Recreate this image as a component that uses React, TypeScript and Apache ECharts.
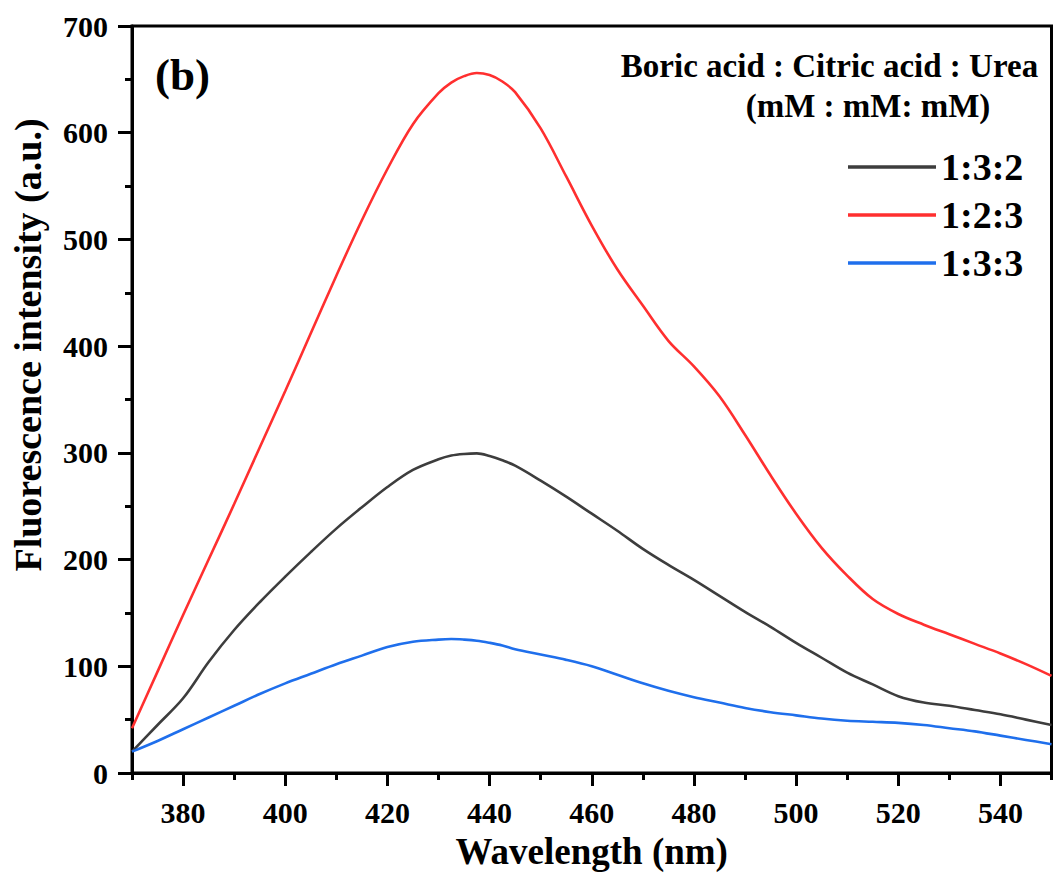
import React, { useEffect, useRef } from "react";
import * as echarts from "echarts";

const wavelengths = [370, 375, 380, 385, 390, 395, 400, 405, 410, 415, 420, 425, 430, 432.5, 435, 437.5, 440, 442.5, 445, 450, 455, 460, 465, 470, 475, 480, 485, 490, 495, 500, 505, 510, 515, 520, 525, 530, 535, 540, 545, 550];

const s132 = [20, 45, 70, 104, 134, 160, 184, 207, 229, 249, 268, 284, 294, 297.5, 299, 299.5, 297, 293, 288, 274, 259, 243, 227, 210, 195, 181, 166, 151, 137, 122, 108, 94, 83, 72, 66, 63, 59, 55, 50, 45];
const s123 = [42, 95, 148, 200, 252, 305, 358, 412, 466, 518, 566, 608, 637, 647, 653, 656, 654, 648, 638, 604, 559, 513, 472, 438, 405, 381, 353, 317, 279, 243, 211, 185, 163, 149, 139, 130, 121, 112, 102, 91];
const s133 = [20, 30, 41, 52, 63, 74, 84, 93, 102, 110, 118, 123, 125, 125.5, 125, 124, 122, 119.5, 116, 111, 106, 100, 92, 84, 77, 71, 66, 61, 57, 54, 51, 49, 48, 47, 45, 42, 39, 35, 31, 27];

const seriesNames = ["1:3:2", "1:2:3", "1:3:3"];
const seriesColors = ["#3d3d3d", "#ff2f2f", "#1f6fec"];

const xMajorTicks = [380, 400, 420, 440, 460, 480, 500, 520, 540];
const xMinorTicks = [370, 390, 410, 430, 450, 470, 490, 510, 530, 550];
const yMajorTicks = [0, 100, 200, 300, 400, 500, 600, 700];
const yMinorTicks = [50, 150, 250, 350, 450, 550, 650];

const FONT = "'Times New Roman', 'Liberation Serif', serif";

export default function App() {
  const ref = useRef<HTMLDivElement>(null);
  useEffect(() => {
    if (!ref.current) return;
    const chart = echarts.init(ref.current, null, { renderer: "svg" });
    const values = [s132, s123, s133];
    const black3 = { color: "#000", width: 3 };
    chart.setOption({
      animation: false,
      backgroundColor: "#fff",
      grid: { left: 132, right: 1.5, top: 26, bottom: 99, show: true, borderColor: "#000", borderWidth: 3, backgroundColor: "transparent" },
      legend: {
        data: seriesNames,
        orient: "vertical",
        left: 848,
        top: 148,
        padding: 0,
        icon: "rect",
        itemWidth: 88,
        itemHeight: 3.5,
        itemGap: 10,
        textStyle: { fontFamily: FONT, fontWeight: "bold", fontSize: 38, lineHeight: 38, color: "#000" },
      },
      graphic: [
        {
          type: "text",
          x: 155,
          y: 75,
          style: { text: "(b)", font: `bold 45px ${FONT}`, fill: "#000", textAlign: "left", textVerticalAlign: "middle" },
        },
        {
          type: "text",
          x: 829.5,
          y: 66,
          style: { text: "Boric acid : Citric acid : Urea", font: `bold 33px ${FONT}`, fill: "#000", textAlign: "center", textVerticalAlign: "middle" },
        },
        {
          type: "text",
          x: 868,
          y: 106,
          style: { text: "(mM : mM: mM)", font: `bold 33px ${FONT}`, fill: "#000", textAlign: "center", textVerticalAlign: "middle" },
        },
        {
          type: "text",
          x: 28,
          y: 345,
          rotation: Math.PI / 2,
          style: { text: "Fluorescence intensity (a.u.)", font: `bold 38px ${FONT}`, fill: "#000", textAlign: "center", textVerticalAlign: "middle" },
        },
      ],
      xAxis: [
        {
          type: "value",
          min: 370,
          max: 550,
          position: "bottom",
          name: "Wavelength (nm)",
          nameLocation: "middle",
          nameGap: 60,
          nameTextStyle: { fontFamily: FONT, fontWeight: "bold", fontSize: 37, color: "#000" },
          axisLine: { show: true, lineStyle: black3 },
          axisTick: { show: true, inside: false, length: 13, lineStyle: black3, customValues: xMajorTicks },
          axisLabel: { show: true, margin: 24, fontFamily: FONT, fontWeight: "bold", fontSize: 30, color: "#000", customValues: xMajorTicks },
          splitLine: { show: false },
        },
        {
          type: "value",
          min: 370,
          max: 550,
          position: "bottom",
          axisLine: { show: false },
          axisTick: { show: true, inside: false, length: 7, lineStyle: black3, customValues: xMinorTicks },
          axisLabel: { show: false },
          splitLine: { show: false },
        },
      ],
      yAxis: [
        {
          type: "value",
          min: 0,
          max: 700,
          interval: 100,
          position: "left",
          axisLine: { show: true, lineStyle: black3 },
          axisTick: { show: true, inside: false, length: 14, lineStyle: black3, customValues: yMajorTicks },
          axisLabel: { margin: 24, fontFamily: FONT, fontWeight: "bold", fontSize: 30, color: "#000", customValues: yMajorTicks },
          splitLine: { show: false },
        },
        {
          type: "value",
          min: 0,
          max: 700,
          position: "left",
          axisLine: { show: false },
          axisTick: { show: true, inside: false, length: 7, lineStyle: black3, customValues: yMinorTicks },
          axisLabel: { show: false },
          splitLine: { show: false },
        },
      ],
      series: seriesNames.map((name, i) => ({
        name,
        type: "line",
        xAxisIndex: 0,
        yAxisIndex: 0,
        smooth: 0.35,
        symbol: "none",
        showSymbol: false,
        color: seriesColors[i],
        lineStyle: { color: seriesColors[i], width: 2.6 },
        data: wavelengths.map((w, j) => [w, values[i][j]]),
      })),
    });
    return () => chart.dispose();
  }, []);
  return <div ref={ref} style={{ width: 1053, height: 875, position: "absolute", left: 0, top: 0 }} />;
}
